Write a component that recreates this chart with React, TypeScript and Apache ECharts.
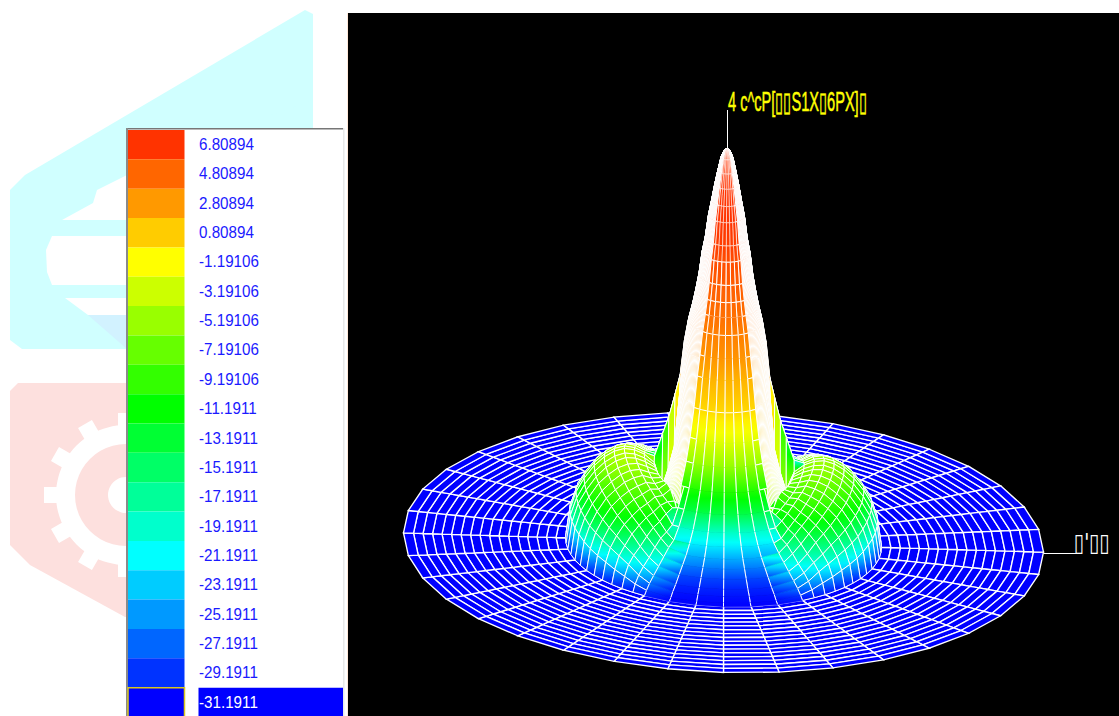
import React, { useEffect, useRef } from "react";
import * as echarts from "echarts";

// ---------- legend ----------
const legendValues = ["6.80894","4.80894","2.80894","0.80894","-1.19106","-3.19106","-5.19106","-7.19106","-9.19106","-11.1911","-13.1911","-15.1911","-17.1911","-19.1911","-21.1911","-23.1911","-25.1911","-27.1911","-29.1911","-31.1911"];
const legendColors = ["#ff3300","#ff6600","#ff9900","#ffcc00","#ffff00","#ccff00","#99ff00","#66ff00","#33ff00","#00ff00","#00ff33","#00ff66","#00ff99","#00ffcc","#00ffff","#00ccff","#0099ff","#0066ff","#0033ff","#0000ff"];

// ---------- labels ----------
const peakLabel = "4 c^cP[▯▯S1X▯6PX]▯";
const rimLabel = "▯'▯▯";

// ---------- surface readings ----------
const ringRadii = [0,3,6,9,12,15,18,21,24,27,30,33,37,41,45,50,56,62,70,80,90,100,110,120,130,140,148,154,158];
const frontHeights = [394,392,385,372,358,342,327,305,290,268,252,238,222,200,180,150,122,100,78,60,46,36,28,22,16,10,6,2,0];
const frontGains = [7.8,7.7,7.6,7.4,7.2,7,6.8,6.4,5.8,5.2,4.8,4.4,3.8,3,1.8,0.3,-2.5,-5.5,-10,-14,-19,-22,-24.5,-26.5,-28.5,-29.8,-30.5,-31,-31.2];
const flankHeights = [394,392,385,372,358,342,327,305,290,268,252,238,222,196,150,95,72,54,45,36,30,26,22,18,14,9,6,2,0];
const backHeights = [394,392,385,372,358,342,327,305,290,268,252,238,222,200,165,145,122,105,82,30,22,16,12,9,6,3,2,1,0];
const backGains = [7.8,7.7,7.6,7.4,7.2,7,6.8,6.4,5.8,5.2,4.8,4.4,3.8,3,-1,-4,-10,-14,-21,-27,-29,-30,-30.5,-30.8,-31,-31.1,-31.1,-31.2,-31.2];

const sideRows = [70,80,90,100,110,120,130,140,148,154,158];
const sideAngles = [0,5,10,15,20,25,30,35,40,45,50,55,60];
const sideHeights = [
  [78,78,78,77,76,75,74,74,70,60,40,0,0],
  [86,85,84,82,79,76,73,70,66,62,58,40,0],
  [90,89,88,86,83,80,76,72,67,61,55,40,0],
  [91,90,89,86,83,79,74,69,63,57,50,42,36],
  [88,87,86,83,80,76,71,66,60,54,47,39,32],
  [82,81,80,77,74,70,66,61,55,49,41,33,26],
  [73,72,71,69,66,63,59,54,49,43,34,26,20],
  [60,59,58,56,54,51,48,44,40,34,28,20,14],
  [46,45,45,43,41,38,36,33,30,26,21,14,9],
  [28,28,27,26,25,23,21,19,17,14,11,7,4],
  [0,0,0,0,0,0,0,0,0,0,0,0,0],
];
const rightLobeScale = 0.93;
const sideGainHeights = [0,10,25,50,70,95];
const sideGainLevels = [-31,-26,-20,-12,-8,-3];

const discRings = [158,167.5,177,186.5,196,205.5,215,224.5,234,243.5,253,262.5,272,281.5,291,300.5,310,320];

// ---------- helpers ----------
const CX = 723.5, CY = 542.5, SQUASH = 0.406, TILT = 0.03, LEAN = 0.009;
const levels = legendValues.map(Number);
const rgb = legendColors.map((c) => [1, 3, 5].map((i) => parseInt(c.slice(i, i + 2), 16)));

function colorOf(g: number) {
  if (g >= levels[0]) return legendColors[0];
  if (g <= levels[19]) return legendColors[19];
  let i = 0;
  while (i < 18 && g < levels[i + 1]) i++;
  const t = (levels[i] - g) / (levels[i] - levels[i + 1]);
  const c = rgb[i].map((v, k) => Math.round(v + (rgb[i + 1][k] - v) * t));
  return `rgb(${c[0]},${c[1]},${c[2]})`;
}
function lookup(xs: number[], ys: number[], x: number) {
  let i = 0;
  while (i < xs.length - 2 && x > xs[i + 1]) i++;
  return ys[i] + ((ys[i + 1] - ys[i]) * (x - xs[i])) / (xs[i + 1] - xs[i]);
}
function surface(az: number, r: number) {
  const rad = (az * Math.PI) / 180;
  const s = Math.sin(rad);
  const k = ringRadii.indexOf(r);
  const isBack = s < -1e-6;
  const m = ((az % 180) + 180) % 180;
  const a = Math.min(m, 180 - m);
  let h = (isBack ? backHeights : a <= 50 ? flankHeights : frontHeights)[k];
  let g = (isBack ? backGains : frontGains)[k];
  const row = sideRows.indexOf(r);
  if (row >= 0 && a <= 60 && (r === 70 || a % 5 === 0)) {
    const col = Math.round(a / 5);
    const scale = Math.cos(rad) > 0 ? rightLobeScale : 1;
    const v = sideHeights[row][col] * scale;
    if (v >= h) {
      g = lookup(sideGainHeights, sideGainLevels, v);
      h = v;
    }
  }
  return { h, g };
}
function project(az: number, r: number, h: number) {
  const rad = (az * Math.PI) / 180;
  const c = Math.cos(rad), s = Math.sin(rad);
  return [CX + r * c + LEAN * h, CY + TILT * r * c + SQUASH * r * s - h];
}

// ---------- mesh ----------
const step10: number[] = [];
for (let a = 0; a < 360; a += 10) step10.push(a);

const fineSpokes: number[] = [60,70,80,90,100,110,120];
for (let a = 0; a <= 52; a += 2) { fineSpokes.push(a); fineSpokes.push(180 - a); }
for (let a = 5; a <= 60; a += 5) { fineSpokes.push(-a); fineSpokes.push(180 + a); }
[250,260,270,280,290].forEach((a) => fineSpokes.push(a));
const innerSpokes = Array.from(new Set(fineSpokes.map((a) => (a + 360) % 360))).sort((p, q) => p - q);

const coarseSpokes: number[] = [70,80,90,100,110,250,260,270,280,290];
for (let a = -60; a <= 60; a += 5) { coarseSpokes.push((a + 360) % 360); coarseSpokes.push(180 + a); }
const outerSpokes = Array.from(new Set(coarseSpokes)).sort((p, q) => p - q);

type Quad = [number, number, number, number];
const lobeQuads: Quad[] = [];
const outerStart = ringRadii.indexOf(70);
function addBand(spokes: number[], k: number) {
  spokes.forEach((a, i) => {
    const b = i + 1 < spokes.length ? spokes[i + 1] : spokes[0] + 360;
    lobeQuads.push([a, b, ringRadii[k], ringRadii[k + 1]]);
  });
}
for (let k = 0; k < outerStart; k++) addBand(innerSpokes, k);
for (let k = outerStart; k < ringRadii.length - 1; k++) addBand(outerSpokes, k);
const depthOf = (q: Quad) => {
  const m = (((q[0] + q[1]) / 2) * Math.PI) / 180;
  return ((q[2] + q[3]) / 2) * Math.sin(m);
};
lobeQuads.sort((p, q) => depthOf(p) - depthOf(q));

const discQuads: Quad[] = [];
for (let k = 0; k < discRings.length - 1; k++) {
  step10.forEach((a) => discQuads.push([a, a + 10, discRings[k], discRings[k + 1]]));
}

function renderDisc(_: any, api: any) {
  const az0 = api.value(0), az1 = api.value(1), r0 = api.value(2), r1 = api.value(3);
  const pts = [project(az0, r0, 0), project(az1, r0, 0), project(az1, r1, 0), project(az0, r1, 0)].map((p) => api.coord(p));
  return { type: "polygon", shape: { points: pts }, style: { fill: "#0000ff", stroke: "#ffffff", lineWidth: 1.35 } };
}

const chevronRings = [37, 50];
function renderLobe(_: any, api: any) {
  const az0 = api.value(0), az1 = api.value(1), r0 = api.value(2), r1 = api.value(3);
  const corners: [number, number][] = [[az0, r0], [az1, r0], [az1, r1], [az0, r1]];
  const verts = corners.map(([a, r]) => {
    const s = surface(a % 360, r);
    return { p: api.coord(project(a, r, s.h)), g: s.g };
  });
  const ys = verts.map((v) => v.p[1]);
  const top = verts[ys.indexOf(Math.min(...ys))].g;
  const bot = verts[ys.indexOf(Math.max(...ys))].g;
  const fill = new echarts.graphic.LinearGradient(0, 0, 0, 1, [
    { offset: 0, color: colorOf(top) },
    { offset: 0.33, color: colorOf(top + (bot - top) * 0.33) },
    { offset: 0.66, color: colorOf(top + (bot - top) * 0.66) },
    { offset: 1, color: colorOf(bot) },
  ]);
  const pts = verts.map((v) => v.p);
  const mid = ((((az0 + az1) / 2) % 360) + 360) % 360;
  const inCore = Math.abs(mid - 90) <= 30;
  const openWall = r0 >= 33 && inCore;
  if (!openWall) {
    const thin = inCore && r0 < 24;
    return { type: "polygon", shape: { points: pts }, style: { fill, stroke: "#ffffff", lineWidth: thin ? 0.55 : 1 } };
  }
  const line = (i: number, j: number) => ({ type: "line", shape: { x1: pts[i][0], y1: pts[i][1], x2: pts[j][0], y2: pts[j][1] }, style: { stroke: "#ffffff", lineWidth: 1 } });
  const children: any[] = [
    { type: "polygon", shape: { points: pts }, style: { fill, stroke: fill, lineWidth: 0.7 } },
    line(0, 3),
    line(1, 2),
  ];
  if (chevronRings.includes(r0)) children.push(line(0, 1));
  return { type: "group", children };
}

const ROW_TOP = 130, ROW_H = 29.35;
function renderLegend(_: any, api: any) {
  const i = api.value(0);
  const [x0, y0] = api.coord([128, ROW_TOP + i * ROW_H]);
  const last = i === legendValues.length - 1;
  const children: any[] = [
    { type: "rect", shape: { x: x0, y: y0, width: 56.5, height: ROW_H }, style: { fill: legendColors[i], stroke: last ? "#d8c820" : "none", lineWidth: last ? 1.5 : 0 } },
  ];
  if (last) children.push({ type: "rect", shape: { x: x0 + 70.5, y: y0, width: 144.5, height: ROW_H }, style: { fill: "#0000ff" } });
  children.push({
    type: "text", x: x0 + 71, y: y0 + ROW_H / 2 - 0.3, scaleX: 0.95,
    style: { text: legendValues[i], fill: last ? "#ffffff" : "#1a1aff", font: '16px "Liberation Sans"', verticalAlign: "middle", align: "left" },
  });
  return { type: "group", children };
}

// ---------- watermark ----------
const GX = 126, GY = 495;
const gearTeeth: any[] = [];
for (let d = 0; d < 360; d += 30) {
  const t = (d * Math.PI) / 180, c = Math.cos(t), s = Math.sin(t);
  const w = 8, R0 = 62, R1 = 82;
  gearTeeth.push({
    type: "polygon",
    shape: { points: [[GX + R0 * c - w * s, GY + R0 * s + w * c], [GX + R1 * c - w * s, GY + R1 * s + w * c], [GX + R1 * c + w * s, GY + R1 * s - w * c], [GX + R0 * c + w * s, GY + R0 * s - w * c]] },
    style: { fill: "#ffffff" },
  });
}
const backdrop: any[] = [
  { type: "polygon", shape: { points: [[305,10],[313,14],[313,140],[127,349],[22,349],[10,340],[10,190],[25,175]] }, style: { fill: "#d0ffff" } },
  { type: "polygon", shape: { points: [[200,140],[313,100],[313,349],[22,349],[88,315]] }, style: { fill: "#d0ffff" } },
  { type: "polygon", shape: { points: [[62,220],[93,203],[97,190],[127,175],[127,220]] }, style: { fill: "#ffffff" } },
  { type: "polygon", shape: { points: [[52,236],[127,236],[127,285],[52,285],[47,272],[46,250]] }, style: { fill: "#ffffff" } },
  { type: "polygon", shape: { points: [[65,298],[127,298],[127,315],[88,315]] }, style: { fill: "#ffffff" } },
  { type: "polygon", shape: { points: [[88,315],[127,315],[127,349]] }, style: { fill: "#d2f2ff" } },
  { type: "polygon", shape: { points: [[18,383],[127,383],[127,617],[125,617],[30,565],[10,545],[10,391]] }, style: { fill: "#fde0de" } },
  { type: "circle", shape: { cx: GX, cy: GY, r: 70 }, style: { fill: "#ffffff" } },
  ...gearTeeth,
  { type: "circle", shape: { cx: GX, cy: GY, r: 51 }, style: { fill: "#fde0de" } },
  { type: "circle", shape: { cx: GX, cy: GY, r: 18 }, style: { fill: "#ffffff" } },
  { type: "rect", shape: { x: 127, y: 129, width: 216, height: 587 }, style: { fill: "#ffffff" } },
  { type: "rect", shape: { x: 126, y: 128, width: 217, height: 1.5 }, style: { fill: "#777777" } },
  { type: "rect", shape: { x: 126, y: 128, width: 2, height: 588 }, style: { fill: "#8a8a8a" } },
  { type: "rect", shape: { x: 343, y: 128, width: 1.5, height: 588 }, style: { fill: "#e8e8e8" } },
  { type: "rect", shape: { x: 347, y: 13, width: 1, height: 703 }, style: { fill: "#ffe8d8" } },
  { type: "rect", shape: { x: 348, y: 13, width: 771, height: 703 }, style: { fill: "#000000" } },
  { type: "line", shape: { x1: 727.5, y1: 110, x2: 727.5, y2: 148 }, style: { stroke: "#ffffff", lineWidth: 1 } },
  { type: "text", x: 728, y: 88, scaleX: 0.54, style: { text: peakLabel, fill: "#ffff00", font: '27px "Liberation Sans"', stroke: "#ffff00", lineWidth: 0.5 } },
  { type: "polyline", shape: { points: [[1044,553.5],[1076,553.5]] }, style: { stroke: "#ffffff", lineWidth: 1 } },
  { type: "text", x: 1074, y: 530, scaleX: 0.74, style: { text: rimLabel, fill: "#ffffff", font: '25px "DejaVu Sans"' } },
];

export default function App() {
  const ref = useRef<HTMLDivElement>(null);
  useEffect(() => {
    const chart = echarts.init(ref.current!, undefined, { renderer: "svg" });
    const axisOff = { show: false };
    chart.setOption({
      animation: false,
      backgroundColor: "#ffffff",
      grid: { left: 0, top: 0, right: 0, bottom: 0 },
      xAxis: { type: "value", min: 0, max: 1119, ...axisOff },
      yAxis: { type: "value", min: 0, max: 716, inverse: true, ...axisOff },
      graphic: { elements: backdrop },
      series: [
        { type: "custom", z: 3, progressive: 0, renderItem: renderDisc, data: discQuads, silent: true },
        { type: "custom", z: 4, progressive: 0, renderItem: renderLobe, data: lobeQuads, silent: true },
        { type: "custom", z: 5, progressive: 0, renderItem: renderLegend, data: legendValues.map((_, i) => [i]), silent: true },
      ],
    });
    return () => chart.dispose();
  }, []);
  return <div ref={ref} style={{ position: "fixed", left: 0, top: 0, width: 1119, height: 716 }} />;
}
